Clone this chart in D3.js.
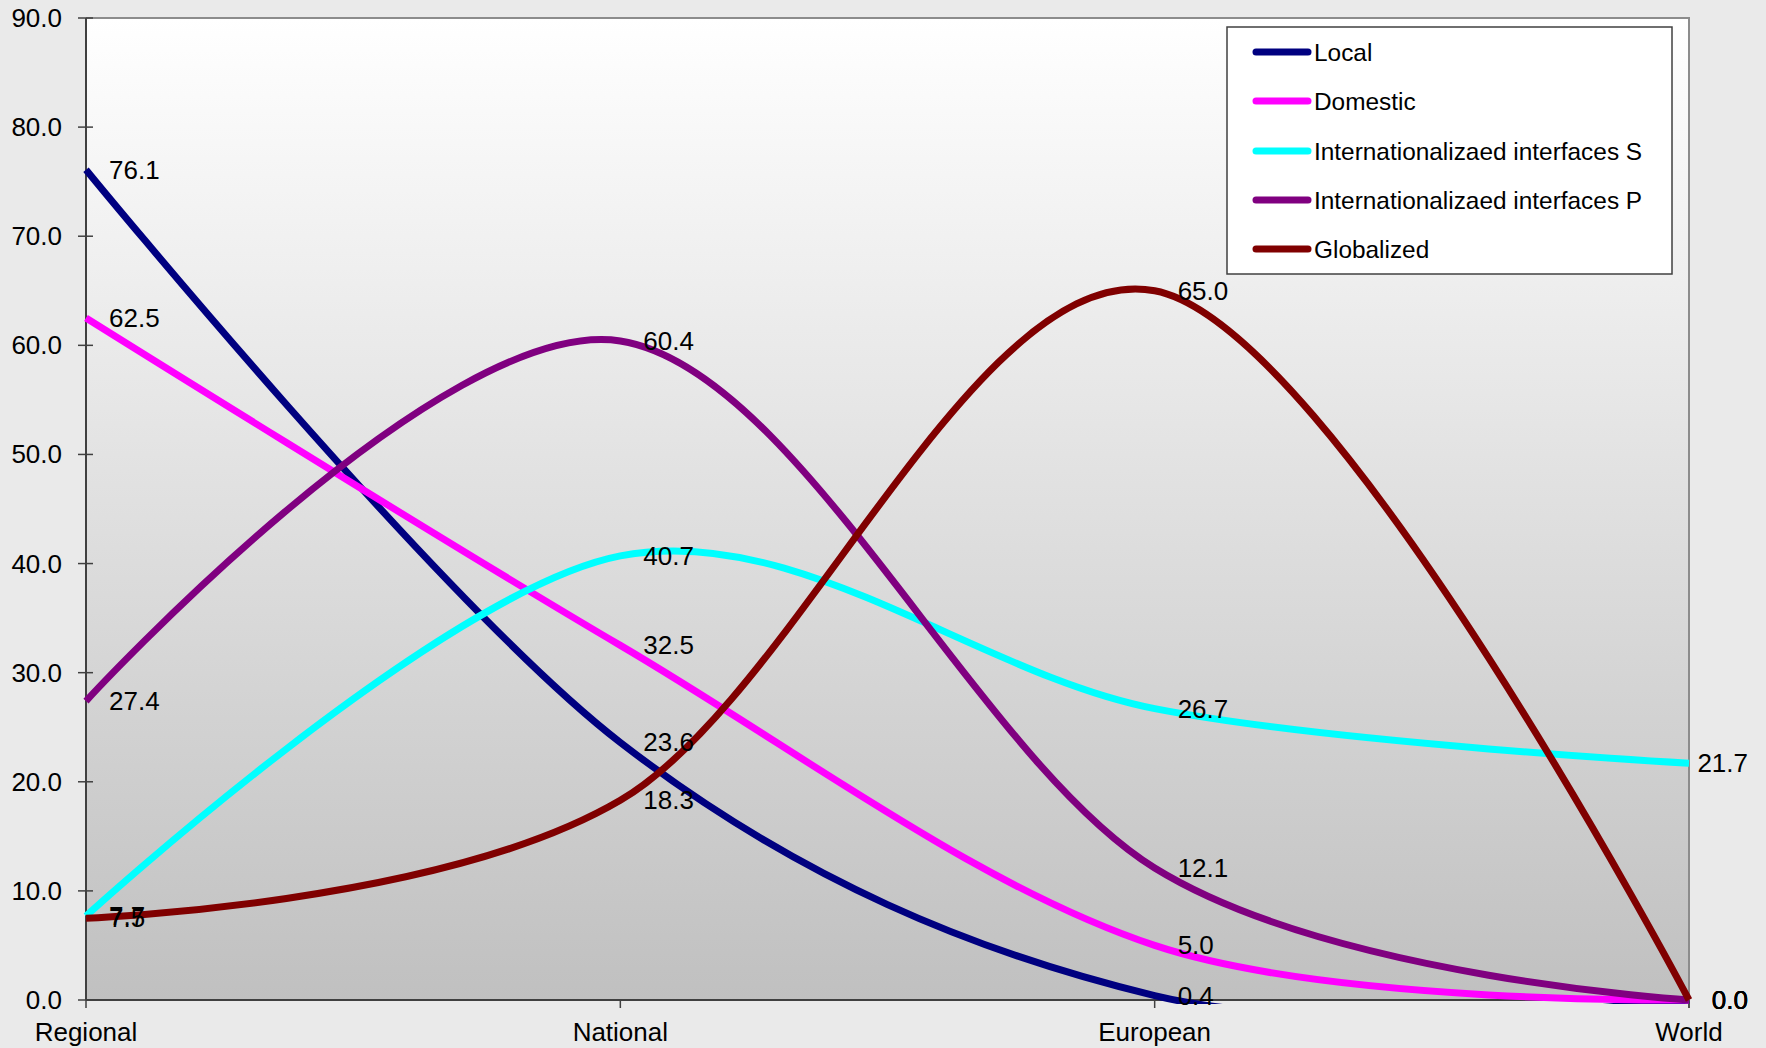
<!DOCTYPE html>
<html>
<head>
<meta charset="utf-8">
<script src="https://cdn.jsdelivr.net/npm/d3@7"></script>
<style>
  html, body { margin: 0; padding: 0; background: #eaeaea; }
  svg { display: block; font-family: "Liberation Sans", Arial, sans-serif; }
</style>
</head>
<body>
<svg id="chart" width="1766" height="1048"></svg>
<script>
// Categories along the x axis
const categories = ["Regional", "National", "European", "World"];

// Series names, colours and values per category
const seriesNames = ["Local", "Domestic", "Internationalizaed interfaces S", "Internationalizaed interfaces P", "Globalized"];
const seriesColors = ["#000080", "#ff00ff", "#00ffff", "#800080", "#800000"];
const localValues = [76.1, 23.6, 0.4, 0.0];
const domesticValues = [62.5, 32.5, 5.0, 0.0];
const interfacesSValues = [7.7, 40.7, 26.7, 21.7];
const interfacesPValues = [27.4, 60.4, 12.1, 0.0];
const globalizedValues = [7.5, 18.3, 65.0, 0.0];
const seriesValues = [localValues, domesticValues, interfacesSValues, interfacesPValues, globalizedValues];

// Y axis ticks
const yTicks = [0, 10, 20, 30, 40, 50, 60, 70, 80, 90];

const svg = d3.select("#chart");
const plot = { left: 86, top: 18, right: 1689, bottom: 1000 };

const x = d3.scalePoint().domain(categories).range([plot.left, plot.right]).padding(0);
const y = d3.scaleLinear().domain([0, 90]).range([plot.bottom, plot.top]);

// Plot area background: vertical white-to-grey gradient
const defs = svg.append("defs");
const grad = defs.append("linearGradient").attr("id", "plotBg")
  .attr("x1", 0).attr("y1", 0).attr("x2", 0).attr("y2", 1);
grad.append("stop").attr("offset", "0%").attr("stop-color", "#ffffff");
grad.append("stop").attr("offset", "100%").attr("stop-color", "#c0c0c0");

// Lines are clipped just below the category axis
defs.append("clipPath").attr("id", "plotClip")
  .append("rect")
  .attr("x", plot.left - 10).attr("y", plot.top - 10)
  .attr("width", plot.right - plot.left + 20)
  .attr("height", plot.bottom - plot.top + 14);

svg.append("rect")
  .attr("x", plot.left).attr("y", plot.top)
  .attr("width", plot.right - plot.left).attr("height", plot.bottom - plot.top)
  .attr("fill", "url(#plotBg)");

// Top and right borders of the plot area
svg.append("path")
  .attr("d", `M${plot.left},${plot.top}H${plot.right}V${plot.bottom + 8}`)
  .attr("fill", "none").attr("stroke", "#8c8c8c").attr("stroke-width", 2);

// Y axis
const yAxis = svg.append("g");
yAxis.append("line")
  .attr("x1", plot.left).attr("x2", plot.left)
  .attr("y1", plot.top).attr("y2", plot.bottom)
  .attr("stroke", "#404040").attr("stroke-width", 2);
yAxis.selectAll("line.tick").data(yTicks).join("line")
  .attr("class", "tick")
  .attr("x1", plot.left - 8).attr("x2", plot.left + 7)
  .attr("y1", d => y(d)).attr("y2", d => y(d))
  .attr("stroke", "#404040").attr("stroke-width", 1.5);
yAxis.selectAll("text").data(yTicks).join("text")
  .attr("x", 62).attr("y", d => y(d))
  .attr("text-anchor", "end").attr("dominant-baseline", "central")
  .attr("font-size", 26).attr("fill", "#000")
  .text(d => d3.format(".1f")(d));

// X axis
const xAxis = svg.append("g");
xAxis.append("line")
  .attr("x1", plot.left).attr("x2", plot.right)
  .attr("y1", plot.bottom).attr("y2", plot.bottom)
  .attr("stroke", "#404040").attr("stroke-width", 2);
xAxis.selectAll("line.tick").data(categories).join("line")
  .attr("class", "tick")
  .attr("x1", d => x(d)).attr("x2", d => x(d))
  .attr("y1", plot.bottom).attr("y2", plot.bottom + 8)
  .attr("stroke", "#404040").attr("stroke-width", 1.5);
xAxis.selectAll("text").data(categories).join("text")
  .attr("x", d => x(d)).attr("y", 1041)
  .attr("text-anchor", "middle")
  .attr("font-size", 26).attr("fill", "#000")
  .text(d => d);

// Smoothed series lines
const line = d3.line()
  .x((d, i) => x(categories[i]))
  .y(d => y(d))
  .curve(d3.curveCardinal.tension(0));

svg.append("g").attr("clip-path", "url(#plotClip)")
  .selectAll("path").data(seriesValues).join("path")
  .attr("d", d => line(d))
  .attr("fill", "none")
  .attr("stroke", (d, i) => seriesColors[i])
  .attr("stroke-width", 7)
  .attr("stroke-linejoin", "round");

// Value labels, right of each point, kept inside the chart's right edge
const labelLayer = svg.append("g");
seriesValues.forEach((vals, s) => {
  vals.forEach((v, i) => {
    const t = labelLayer.append("text")
      .attr("x", x(categories[i]) + 23)
      .attr("y", y(v))
      .attr("dominant-baseline", "central")
      .attr("font-size", 26).attr("fill", "#000")
      .text(d3.format(".1f")(v));
    const w = t.node().getComputedTextLength();
    const maxRight = 1748;
    if (x(categories[i]) + 23 + w > maxRight) t.attr("x", maxRight - w);
  });
});

// Legend
const legend = svg.append("g");
legend.append("rect")
  .attr("x", 1227).attr("y", 27).attr("width", 445).attr("height", 247)
  .attr("fill", "#ffffff").attr("stroke", "#404040").attr("stroke-width", 1.5);
const rowY = [52, 101, 151, 200, 249];
seriesNames.forEach((name, i) => {
  legend.append("line")
    .attr("x1", 1256).attr("x2", 1308)
    .attr("y1", rowY[i]).attr("y2", rowY[i])
    .attr("stroke", seriesColors[i]).attr("stroke-width", 7)
    .attr("stroke-linecap", "round");
  legend.append("text")
    .attr("x", 1314).attr("y", rowY[i])
    .attr("dominant-baseline", "central")
    .attr("font-size", 24.4).attr("fill", "#000")
    .text(name);
});
</script>
</body>
</html>
